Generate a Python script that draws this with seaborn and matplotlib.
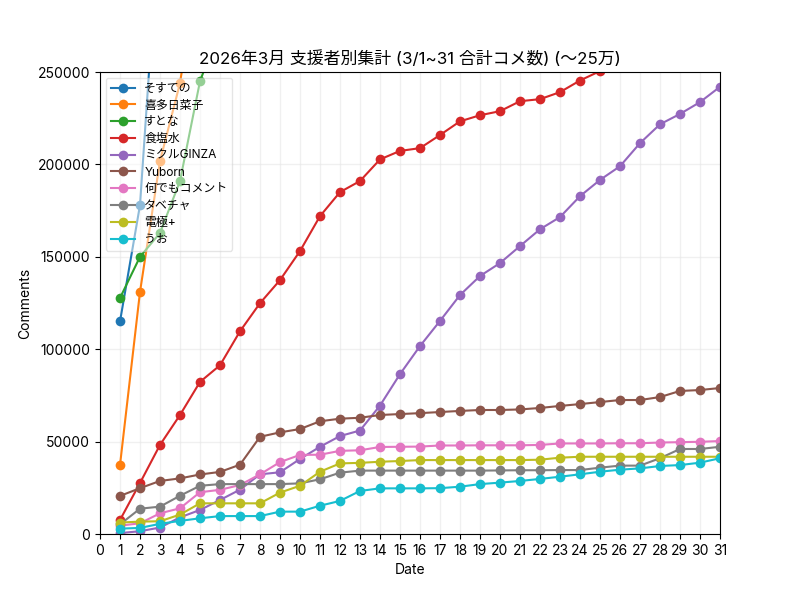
import matplotlib
matplotlib.use("Agg")
import matplotlib.pyplot as plt
import seaborn as sns
import numpy as np

names = ["そすての", "喜多日菜子", "すとな", "食塩水", "ミクルGINZA", "Yuborn",
         "何でもコメント", "タベチャ", "電極+", "うお"]

sosuteno = [115000, 178000, 338000]
kita = [37300, 131000, 201800, 244000, 314000]
sutona = [127700, 150000, 162900, 191000, 245000, 274000]
shokuensui = [7600, 27600, 48200, 64400, 82300, 91300, 109700, 124900, 137400, 153100,
              172000, 185000, 191000, 202700, 207300, 208800, 215900, 223300, 226600, 228800,
              234200, 235300, 239100, 245400, 250500, 256000]
mikuru = [500, 1500, 3500, 9000, 13000, 18400, 24000, 32300, 33400, 40600,
          47200, 53000, 56000, 69500, 86500, 101700, 115300, 129300, 139600, 146600,
          155800, 164900, 171500, 182800, 191600, 199000, 211500, 221700, 227300, 233700, 242000]
yuborn = [20600, 24800, 28700, 30100, 32200, 33600, 37500, 52600, 55000, 56800,
          61000, 62400, 62900, 64400, 64900, 65400, 66000, 66600, 67100, 67100,
          67400, 68200, 69300, 70300, 71400, 72500, 72500, 74100, 77400, 77900, 79000]
nandemo = [4500, 5800, 11200, 13900, 22600, 23900, 26500, 32300, 38900, 42800,
           42900, 45000, 45300, 47100, 47200, 47300, 47900, 47900, 48000, 48000,
           48000, 48200, 49000, 49000, 49000, 49100, 49100, 49500, 49700, 49900, 50300]
tabecha = [5200, 13700, 14800, 20700, 26100, 27000, 27000, 27000, 27000, 27400,
           29600, 33200, 34300, 34300, 34300, 34300, 34300, 34300, 34300, 34400,
           34500, 34500, 34600, 34600, 35900, 37000, 37000, 41000, 46000, 46000, 47200]
denkyoku = [6200, 6700, 6900, 10500, 16600, 16600, 16600, 16600, 22400, 26100,
            33700, 38200, 38500, 39100, 39500, 40000, 40000, 40000, 40000, 40000,
            40000, 40200, 41300, 41800, 41800, 41800, 41800, 41800, 41800, 41800, 41800]
uo = [2900, 3300, 5500, 7100, 8500, 9700, 9700, 9700, 12100, 12100,
      15300, 17900, 23300, 24700, 24700, 24700, 24800, 25600, 27000, 27800,
      28700, 29800, 31000, 32300, 33700, 34800, 35500, 36800, 37300, 38600, 41000]

series = [sosuteno, kita, sutona, shokuensui, mikuru, yuborn, nandemo, tabecha, denkyoku, uo]
colors = sns.color_palette("tab10", 10)

plt.rcParams['font.family'] = ['Inter', 'Noto Sans CJK JP', 'DejaVu Sans']

fig, ax = plt.subplots(figsize=(8, 6), dpi=100)
for name, vals, c in zip(names, series, colors):
    days = np.arange(1, len(vals) + 1)
    sns.lineplot(x=days, y=vals, ax=ax, color=c, marker='o', markersize=7,
                 markeredgewidth=0, linewidth=1.5, label=name)

ax.set_xlim(0, 31)
ax.set_ylim(0, 250000)
ax.set_xticks(range(0, 32))
ax.grid(True, color='#e6e6e6', linewidth=1.0, alpha=0.6)
ax.set_axisbelow(True)
ax.set_title("2026年3月 支援者別集計 (3/1~31 合計コメ数) (〜25万)", fontsize=12.2)
ax.set_xlabel("Date")
ax.set_ylabel("Comments")
ax.legend(loc='upper left', fontsize=8.6, framealpha=0.5, labelspacing=0.4)
fig.savefig("out.png", dpi=100)
